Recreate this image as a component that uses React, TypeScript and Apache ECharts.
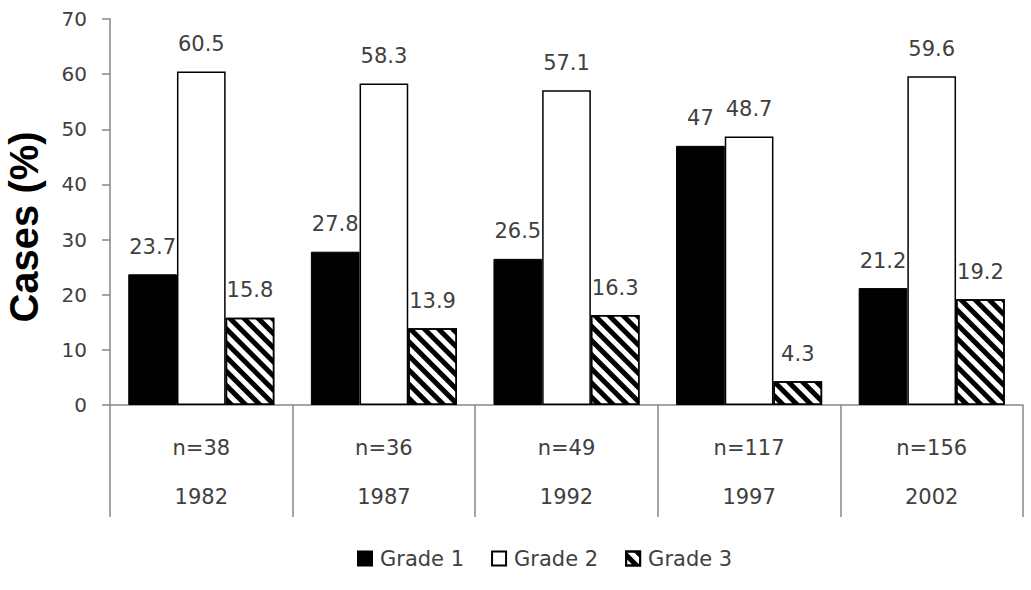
import React, { useEffect, useRef } from "react";
import * as echarts from "echarts";

const years = ["1982", "1987", "1992", "1997", "2002"];
const nLabels = ["n=38", "n=36", "n=49", "n=117", "n=156"];
const grade1 = [23.7, 27.8, 26.5, 47, 21.2];
const grade2 = [60.5, 58.3, 57.1, 48.7, 59.6];
const grade3 = [15.8, 13.9, 16.3, 4.3, 19.2];
const seriesNames = ["Grade 1", "Grade 2", "Grade 3"];
const yTicks = [0, 10, 20, 30, 40, 50, 60, 70];
const yTitle = "Cases (%)";

const textColor = "#404040";
const axisColor = "#868686";
const font = "DejaVu Sans";

export default function App() {
  const ref = useRef<HTMLDivElement>(null);
  useEffect(() => {
    if (!ref.current) return;
    const chart = echarts.init(ref.current, null, { renderer: "svg" });
    const categories = years.map((y, i) => nLabels[i] + "\n" + y);
    const label = {
      show: true,
      position: "top",
      distance: 17,
      color: textColor,
      fontFamily: font,
      fontSize: 21,
    };
    chart.setOption({
      animation: false,
      backgroundColor: "#fff",
      grid: {
        left: 110,
        right: 8,
        top: 19,
        bottom: 185,
        containLabel: false,
        outerBoundsMode: "none",
      },
      graphic: [
        {
          type: "text",
          x: 24,
          y: 227,
          rotation: Math.PI / 2,
          style: {
            text: yTitle,
            fill: "#000",
            font: "bold 40px 'Liberation Sans'",
            textAlign: "center",
            textVerticalAlign: "middle",
          },
        },
      ],
      legend: {
        top: 543,
        left: 352,
        icon: "rect",
        itemWidth: 14,
        itemHeight: 14,
        itemGap: 27,
        textStyle: {
          color: textColor,
          fontFamily: font,
          fontSize: 21,
          padding: [0, 0, 0, 3],
        },
        data: seriesNames,
      },
      xAxis: {
        type: "category",
        data: categories,
        axisLine: { lineStyle: { color: axisColor, width: 1.5 } },
        axisTick: {
          show: true,
          interval: 0,
          alignWithLabel: false,
          length: 112,
          lineStyle: { color: axisColor, width: 1.5 },
        },
        axisLabel: {
          color: textColor,
          fontFamily: font,
          fontSize: 21,
          lineHeight: 49,
          margin: 18,
          interval: 0,
        },
      },
      yAxis: {
        type: "value",
        min: yTicks[0],
        max: yTicks[yTicks.length - 1],
        interval: 10,
        axisLine: { show: true, lineStyle: { color: axisColor, width: 1.5 } },
        axisTick: { show: true, length: 8, lineStyle: { color: axisColor, width: 1.5 } },
        axisLabel: { color: textColor, fontFamily: font, fontSize: 20, margin: 23 },
        splitLine: { show: false },
      },
      series: [
        {
          name: seriesNames[0],
          type: "bar",
          data: grade1,
          barGap: "0%",
          barCategoryGap: "20%",
          itemStyle: { color: "#000", borderColor: "#000", borderWidth: 1 },
          label,
        },
        {
          name: seriesNames[1],
          type: "bar",
          data: grade2,
          itemStyle: { color: "#fff", borderColor: "#000", borderWidth: 1.5 },
          label,
        },
        {
          name: seriesNames[2],
          type: "bar",
          data: grade3,
          itemStyle: {
            color: "#fff",
            borderColor: "#000",
            borderWidth: 1.5,
            decal: {
              symbol: "rect",
              symbolSize: 1,
              dashArrayX: [1, 0],
              dashArrayY: [4.5, 5],
              rotation: Math.PI / 4,
              color: "#000",
              backgroundColor: "#fff",
            },
          },
          label,
        },
      ],
    });
    return () => chart.dispose();
  }, []);
  return (
    <div
      ref={ref}
      style={{ position: "fixed", left: 0, top: 0, width: 1031, height: 590 }}
    />
  );
}
